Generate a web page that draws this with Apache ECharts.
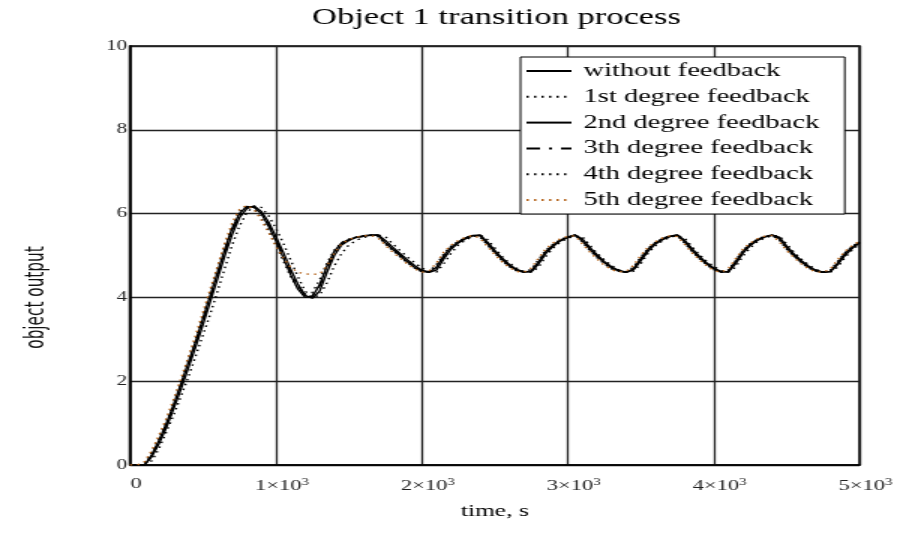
<!DOCTYPE html>
<html>
<head>
<meta charset="utf-8">
<script src="https://cdn.jsdelivr.net/npm/echarts@6/dist/echarts.min.js"></script>
<style>
html,body{margin:0;padding:0;background:#fff;overflow:hidden;width:897px;height:537px;}
#chart{width:598px;height:537px;transform:scaleX(1.5);transform-origin:0 0;}
</style>
</head>
<body>
<div id="chart"></div>
<script>
const chartTitle = 'Object 1 transition process';
const xName = 'time, s';
const yName = 'object output';
const seriesNames = ['without feedback','1st degree feedback','2nd degree feedback','3th degree feedback','4th degree feedback','5th degree feedback'];
const xTicks = [0,1000,2000,3000,4000,5000];
const yTicks = [0,2,4,6,8,10];

const times = [0,50,100,150,200,250,300,350,400,450,500,550,600,650,700,750,800,850,900,950,
1000,1050,1100,1150,1200,1250,1300,1350,1400,1450,1500,1550,1600,1650,1700,1750,1800,1850,1900,1950,
2000,2050,2100,2150,2200,2250,2300,2350,2400,2450,2500,2550,2600,2650,2700,2750,2800,2850,2900,2950,
3000,3050,3100,3150,3200,3250,3300,3350,3400,3450,3500,3550,3600,3650,3700,3750,3800,3850,3900,3950,
4000,4050,4100,4150,4200,4250,4300,4350,4400,4450,4500,4550,4600,4650,4700,4750,4800,4850,4900,4950,5000];

const noFeedback = [0,0,0,0.25,0.6,1.0,1.45,1.95,2.45,2.95,3.5,4.05,4.6,5.15,5.65,6.0,6.17,6.15,6.0,5.7,
5.35,4.95,4.55,4.2,4.0,4.02,4.3,4.75,5.1,5.3,5.38,5.44,5.47,5.49,5.48,5.3,5.15,5.0,4.85,4.72,
4.62,4.6,4.72,5.0,5.2,5.32,5.42,5.48,5.47,5.28,5.08,4.9,4.75,4.65,4.6,4.63,4.85,5.1,5.25,5.37,
5.44,5.49,5.35,5.15,4.98,4.83,4.7,4.63,4.6,4.68,4.92,5.15,5.3,5.4,5.46,5.49,5.33,5.13,4.95,4.8,
4.68,4.6,4.62,4.85,5.1,5.27,5.38,5.45,5.49,5.4,5.18,5.0,4.85,4.72,4.63,4.6,4.62,4.82,5.05,5.2,5.32];

const feedback1 = [0,0,0,0.1,0.4,0.8,1.2,1.65,2.1,2.6,3.1,3.6,4.15,4.7,5.25,5.7,6.02,6.18,6.15,5.95,
5.65,5.3,4.9,4.5,4.15,4.0,4.05,4.35,4.75,5.05,5.25,5.36,5.43,5.47,5.49,5.45,5.28,5.12,4.97,4.83,
4.7,4.62,4.6,4.8,5.05,5.25,5.37,5.45,5.49,5.38,5.18,4.98,4.82,4.7,4.62,4.6,4.72,4.98,5.18,5.32,
5.41,5.47,5.45,5.25,5.06,4.9,4.76,4.66,4.61,4.62,4.8,5.05,5.23,5.35,5.43,5.48,5.42,5.22,5.03,4.87,
4.74,4.64,4.6,4.72,4.98,5.18,5.33,5.42,5.47,5.47,5.28,5.08,4.92,4.78,4.67,4.61,4.6,4.72,4.95,5.13,5.27];

const feedback2 = [0,0,0,0.2,0.52,0.9,1.35,1.82,2.32,2.82,3.35,3.9,4.45,5.0,5.5,5.9,6.12,6.18,6.05,5.8,
5.45,5.08,4.68,4.32,4.05,3.98,4.15,4.6,5.0,5.25,5.36,5.43,5.46,5.48,5.49,5.36,5.2,5.05,4.9,4.76,
4.65,4.6,4.65,4.92,5.15,5.3,5.4,5.47,5.49,5.32,5.12,4.94,4.78,4.67,4.61,4.61,4.8,5.05,5.22,5.35,
5.43,5.48,5.4,5.2,5.02,4.86,4.73,4.64,4.6,4.65,4.87,5.1,5.27,5.38,5.45,5.49,5.37,5.17,4.99,4.83,
4.7,4.62,4.6,4.8,5.05,5.24,5.36,5.44,5.48,5.44,5.23,5.04,4.88,4.75,4.65,4.6,4.61,4.78,5.0,5.17,5.3];

const feedback3 = [0,0,0,0.22,0.56,0.95,1.4,1.88,2.38,2.88,3.42,3.97,4.52,5.07,5.58,5.95,6.15,6.17,6.02,5.75,
5.4,5.02,4.62,4.28,4.05,4.05,4.28,4.68,5.05,5.27,5.37,5.43,5.46,5.48,5.49,5.33,5.18,5.03,4.88,4.74,
4.64,4.6,4.68,4.95,5.17,5.31,5.41,5.47,5.48,5.3,5.1,4.92,4.77,4.66,4.6,4.62,4.82,5.07,5.23,5.36,
5.44,5.49,5.38,5.18,5.0,4.85,4.72,4.64,4.6,4.66,4.9,5.12,5.28,5.39,5.45,5.49,5.35,5.15,4.97,4.82,
4.69,4.61,4.61,4.83,5.07,5.25,5.37,5.44,5.49,5.42,5.2,5.02,4.86,4.73,4.64,4.6,4.62,4.8,5.02,5.18,5.31];

const feedback4 = [0,0,0.05,0.3,0.65,1.05,1.5,2.0,2.5,3.02,3.57,4.12,4.68,5.22,5.7,6.05,6.19,6.12,5.9,5.6,
5.25,4.88,4.5,4.22,4.08,4.12,4.42,4.82,5.13,5.31,5.39,5.44,5.47,5.49,5.45,5.27,5.12,4.97,4.83,4.7,
4.61,4.62,4.78,5.04,5.22,5.34,5.43,5.48,5.44,5.25,5.05,4.88,4.73,4.63,4.6,4.67,4.9,5.13,5.27,5.38,
5.45,5.48,5.32,5.12,4.95,4.8,4.68,4.62,4.61,4.72,4.96,5.17,5.31,5.41,5.47,5.47,5.3,5.1,4.93,4.78,
4.66,4.6,4.65,4.88,5.12,5.28,5.39,5.46,5.48,5.37,5.15,4.98,4.83,4.7,4.62,4.6,4.65,4.86,5.07,5.22,5.33];

const feedback5 = [0,0,0.08,0.35,0.72,1.12,1.58,2.07,2.58,3.1,3.65,4.2,4.75,5.3,5.78,6.1,6.2,6.1,5.85,5.55,
5.22,4.95,4.72,4.6,4.56,4.55,4.56,4.75,5.05,5.28,5.38,5.44,5.47,5.48,5.42,5.24,5.08,4.94,4.8,4.68,
4.6,4.63,4.82,5.08,5.25,5.36,5.44,5.48,5.41,5.21,5.02,4.85,4.71,4.62,4.6,4.7,4.94,5.16,5.3,5.4,
5.46,5.47,5.28,5.09,4.92,4.77,4.66,4.61,4.62,4.76,5.0,5.2,5.33,5.42,5.47,5.45,5.27,5.07,4.9,4.76,
4.64,4.6,4.68,4.92,5.15,5.3,5.4,5.46,5.48,5.33,5.12,4.95,4.8,4.68,4.61,4.6,4.68,4.9,5.1,5.24,5.34];

const seriesValues = [noFeedback, feedback1, feedback2, feedback3, feedback4, feedback5];
const seriesColors = ['#000','#000','#000','#000','#000','#b5651d'];
const seriesDash = ['solid',[1.5,3.5],'solid',[9,6,2,6],[1.5,3.5],[1.5,3.5]];

const serif = "'Liberation Serif','Times New Roman',serif";
const chart = echarts.init(document.getElementById('chart'), null, {renderer:'canvas'});

const series = seriesNames.map((name, i) => ({
  name: name,
  type: 'line',
  symbol: 'none',
  animation: false,
  data: times.map((t, j) => [t, seriesValues[i][j]]),
  lineStyle: {color: seriesColors[i], width: 1.4, type: seriesDash[i]},
  itemStyle: {color: seriesColors[i]},
  z: 3
}));

chart.setOption({
  backgroundColor: '#fff',
  animation: false,
  title: {
    text: chartTitle,
    left: 331,
    top: 6,
    padding: 0,
    textAlign: 'center',
    textStyle: {fontFamily: serif, fontSize: 23, fontWeight: 'normal', color: '#000'}
  },
  legend: {
    orient: 'vertical',
    left: 347,
    top: 57,
    align: 'left',
    padding: [4, 17, 4, 3],
    itemGap: 5.8,
    itemWidth: 30,
    itemHeight: 14,
    backgroundColor: '#fff',
    borderColor: '#000',
    borderWidth: 1,
    borderRadius: 0,
    data: seriesNames,
    itemStyle: {color: 'rgba(0,0,0,0)', borderWidth: 0, opacity: 0},
    textStyle: {fontFamily: serif, fontSize: 19, color: '#000', lineHeight: 20, padding: [0,0,0,3]}
  },
  grid: {
    left: 86.67, right: 23.33, top: 46, bottom: 72,
    show: true, borderColor: '#000', borderWidth: 1.6, backgroundColor: 'transparent',
    containLabel: false
  },
  xAxis: {
    type: 'value', min: 0, max: 5000, interval: 1000,
    name: xName, nameLocation: 'middle', nameGap: 38,
    nameTextStyle: {fontFamily: serif, fontSize: 17, color: '#000'},
    axisLine: {show: true, lineStyle: {color: '#000', width: 1.6}},
    axisTick: {show: false},
    splitLine: {show: true, lineStyle: {color: '#222', width: 1.3}},
    axisLabel: {
      margin: 12,
      padding: [0, 0, 0, 8],
      fontFamily: serif, fontSize: 15, color: '#222',
      formatter: function (v) {
        if (v === 0) return '{a|0}';
        return '{a|' + (v / 1000) + '×10}{s|3}';
      },
      rich: {
        a: {fontFamily: serif, fontSize: 15, color: '#222'},
        s: {fontFamily: serif, fontSize: 10, color: '#222', verticalAlign: 'bottom', padding: [0, 0, 8, 0]}
      }
    }
  },
  yAxis: {
    type: 'value', min: 0, max: 10, interval: 2,
    name: yName, nameLocation: 'middle', nameGap: 54, nameRotate: 90,
    nameTextStyle: {fontFamily: "'Liberation Sans Narrow','DejaVu Sans Condensed',sans-serif", fontSize: 17, color: '#111', padding: [0, 84, 0, 0]},
    axisLine: {show: true, lineStyle: {color: '#000', width: 1.6}},
    axisTick: {show: false},
    splitLine: {show: true, lineStyle: {color: '#222', width: 1.3}},
    axisLabel: {margin: 2, fontFamily: serif, fontSize: 14, color: '#222'}
  },
  series: series
});
</script>
</body>
</html>
